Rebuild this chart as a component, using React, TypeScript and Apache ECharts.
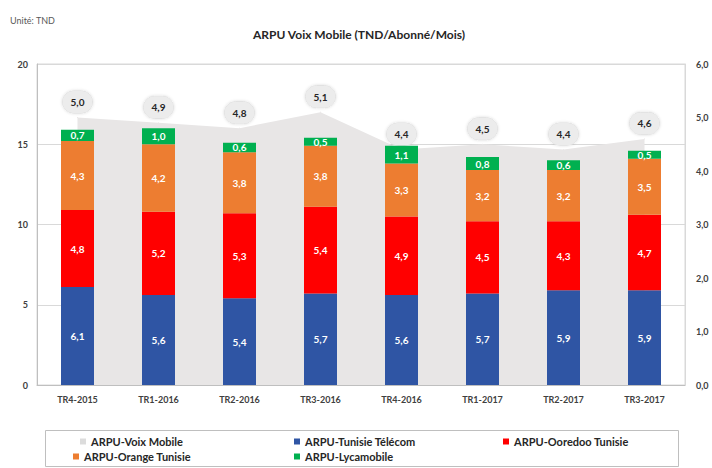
import React, { useEffect, useRef } from "react";
import * as echarts from "echarts";

const categories = ["TR4-2015", "TR1-2016", "TR2-2016", "TR3-2016", "TR4-2016", "TR1-2017", "TR2-2017", "TR3-2017"];
const voixMobile = [5.0, 4.9, 4.8, 5.1, 4.4, 4.5, 4.4, 4.6];
const tunisieTelecom = [6.1, 5.6, 5.4, 5.7, 5.6, 5.7, 5.9, 5.9];
const ooredoo = [4.8, 5.2, 5.3, 5.4, 4.9, 4.5, 4.3, 4.7];
const orange = [4.3, 4.2, 3.8, 3.8, 3.3, 3.2, 3.2, 3.5];
const lycamobile = [0.7, 1.0, 0.6, 0.5, 1.1, 0.8, 0.6, 0.5];
const leftTicks = [0, 5, 10, 15, 20];
const rightTicks = [0, 1, 2, 3, 4, 5, 6];

const FONT = "Lato, 'Open Sans', sans-serif";
const fmt = (v: number) => v.toFixed(1).replace(".", ",");

export default function App() {
  const ref = useRef<HTMLDivElement>(null);
  useEffect(() => {
    if (!ref.current) return;
    const chart = echarts.init(ref.current, undefined, { renderer: "svg" });
    const barLabel = {
      show: true,
      position: "inside" as const,
      color: "#ffffff",
      fontWeight: "bold" as const,
      fontSize: 10,
      fontFamily: FONT,
      formatter: (p: any) => fmt(p.value),
    };
    const legendText = { color: "#262626", fontSize: 11, fontWeight: "bold" as const, fontFamily: FONT };
    const mkLegend = (name: string, color: string, left: number, top: number) => ({
      data: [{ name, icon: "rect", itemStyle: { color } }],
      left,
      top,
      padding: 0,
      itemWidth: 6,
      itemHeight: 6,
      textStyle: legendText,
      selectedMode: false,
    });
    chart.setOption({
      animation: false,
      backgroundColor: "#ffffff",
      title: {
        text: "ARPU Voix Mobile (TND/Abonné/Mois)",
        left: 248,
        top: 23,
        textStyle: { fontSize: 12, fontWeight: "bold", color: "#262626", fontFamily: FONT },
      },
      graphic: [
        {
          type: "text",
          left: 10,
          top: 16,
          style: { text: "Unité: TND", fontSize: 9, fill: "#595959", fontFamily: FONT },
        },
        {
          type: "rect",
          shape: { x: 45.5, y: 430.5, width: 633, height: 36 },
          style: { fill: "none", stroke: "#bfbfbf", lineWidth: 1 },
          z: -1,
        },
      ],
      legend: [
        mkLegend("ARPU-Voix Mobile", "#dcdcdc", 80, 436),
        mkLegend("ARPU-Tunisie Télécom", "#2f55a4", 294, 436),
        mkLegend("ARPU-Ooredoo Tunisie", "#ff0000", 503, 436),
        mkLegend("ARPU-Orange Tunisie", "#ed7d31", 73, 451),
        mkLegend("ARPU-Lycamobile", "#00b050", 294, 451),
      ],
      grid: { left: 37, right: 27, top: 64, bottom: 83, show: true, borderColor: "#d9d9d9", borderWidth: 1 },
      xAxis: {
        type: "category",
        data: categories,
        axisLine: { lineStyle: { color: "#bfbfbf" } },
        axisTick: { show: false },
        axisLabel: { color: "#404040", fontSize: 9, fontWeight: "bold", fontFamily: FONT, margin: 10 },
      },
      yAxis: [
        {
          type: "value",
          min: leftTicks[0],
          max: leftTicks[leftTicks.length - 1],
          interval: 5,
          axisLine: { show: true, lineStyle: { color: "#bfbfbf" } },
          axisTick: { show: false },
          splitLine: { lineStyle: { color: "#d9d9d9" } },
          axisLabel: { color: "#404040", fontSize: 9, fontWeight: "bold", fontFamily: FONT, margin: 9 },
        },
        {
          type: "value",
          min: rightTicks[0],
          max: rightTicks[rightTicks.length - 1],
          interval: 1,
          axisLine: { show: true, lineStyle: { color: "#d9d9d9" } },
          axisTick: { show: false },
          splitLine: { show: false },
          axisLabel: {
            color: "#404040",
            fontSize: 9,
            fontWeight: "bold",
            fontFamily: FONT,
            margin: 11,
            formatter: (v: number) => fmt(v),
          },
        },
      ],
      series: [
        {
          name: "ARPU-Voix Mobile",
          type: "line",
          yAxisIndex: 1,
          data: voixMobile,
          z: 1,
          symbol: "circle",
          symbolSize: 1,
          itemStyle: { color: "#e8e6e6" },
          lineStyle: { width: 0, color: "#e8e6e6" },
          areaStyle: { color: "#e8e6e6", opacity: 1 },
          label: {
            show: true,
            position: "top",
            distance: 4,
            color: "#262626",
            fontSize: 10,
            fontWeight: "bold",
            fontFamily: FONT,
            backgroundColor: "#ececec",
            borderColor: "#dadada",
            borderWidth: 0.5,
            borderRadius: 12,
            padding: [6, 8],
            shadowColor: "rgba(0,0,0,0.15)",
            shadowBlur: 3,
            formatter: (p: any) => fmt(p.value),
          },
        },
        {
          name: "ARPU-Tunisie Télécom",
          type: "bar",
          stack: "ops",
          data: tunisieTelecom,
          barWidth: 33,
          z: 2,
          itemStyle: { color: "#2f55a4" },
          label: barLabel,
        },
        {
          name: "ARPU-Ooredoo Tunisie",
          type: "bar",
          stack: "ops",
          data: ooredoo,
          barWidth: 33,
          z: 2,
          itemStyle: { color: "#ff0000" },
          label: barLabel,
        },
        {
          name: "ARPU-Orange Tunisie",
          type: "bar",
          stack: "ops",
          data: orange,
          barWidth: 33,
          z: 2,
          itemStyle: { color: "#ed7d31" },
          label: barLabel,
        },
        {
          name: "ARPU-Lycamobile",
          type: "bar",
          stack: "ops",
          data: lycamobile,
          barWidth: 33,
          z: 2,
          itemStyle: { color: "#00b050" },
          label: barLabel,
        },
      ],
    });
    return () => chart.dispose();
  }, []);
  return <div ref={ref} style={{ width: 712, height: 468, position: "absolute", left: 0, top: 0 }} />;
}
